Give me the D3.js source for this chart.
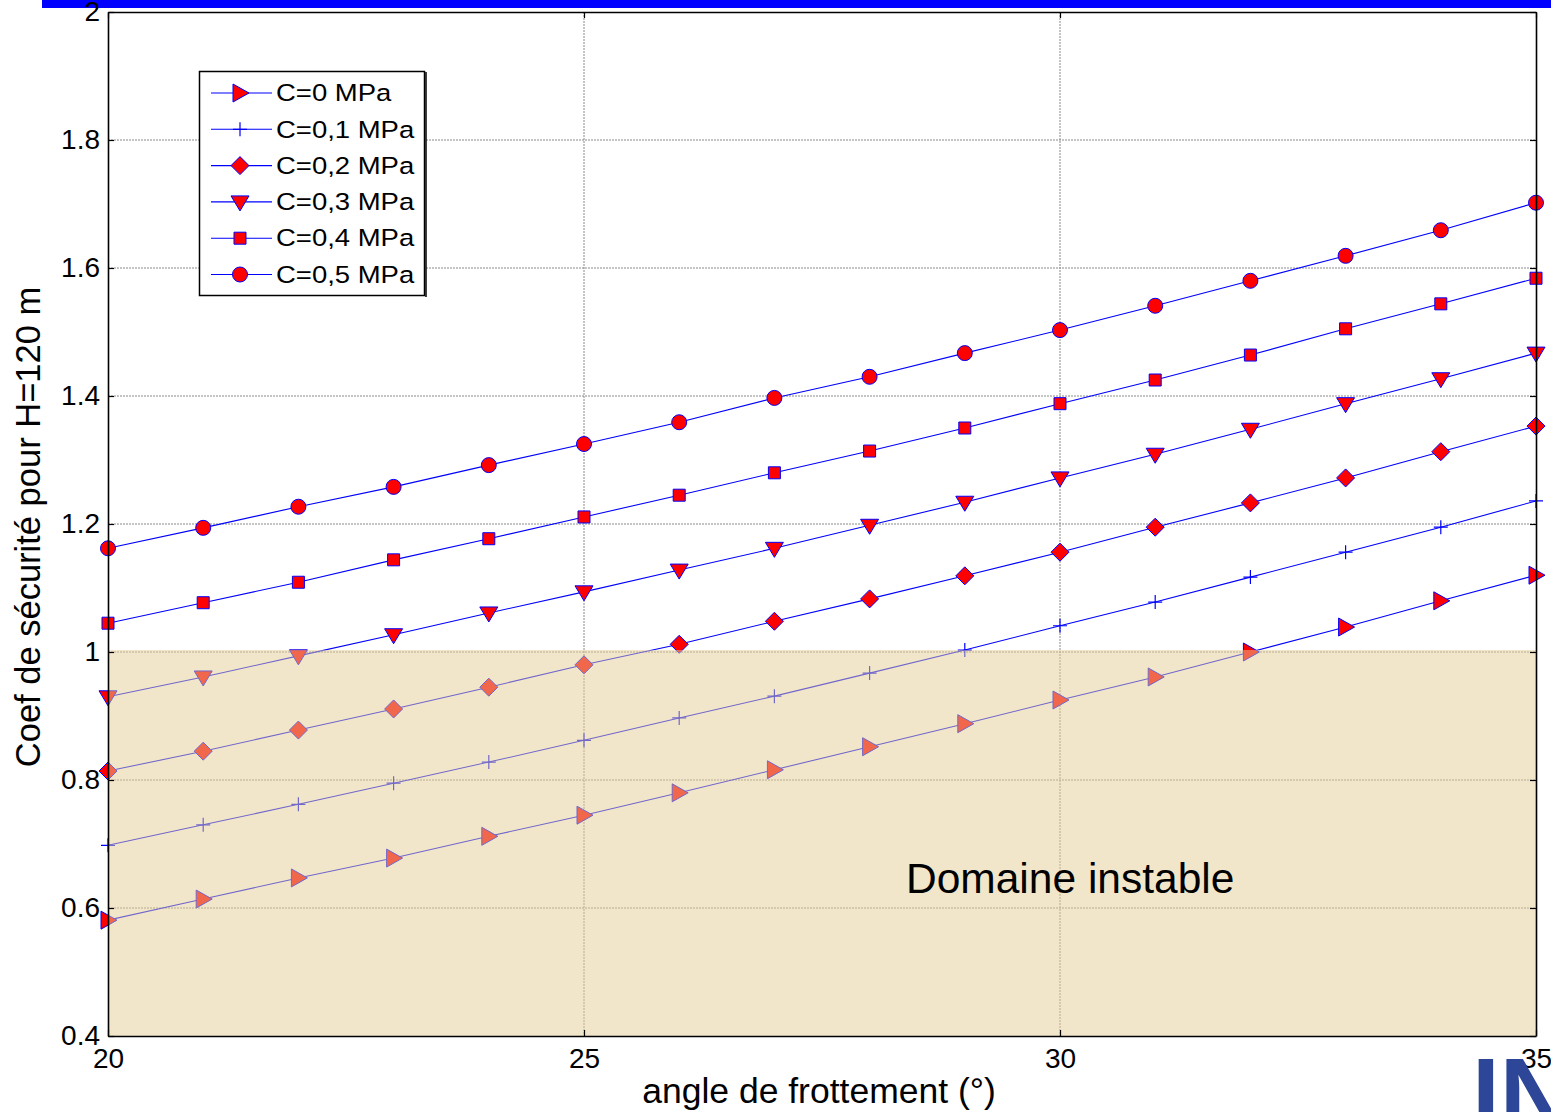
<!DOCTYPE html>
<html><head><meta charset="utf-8">
<script src="https://cdn.jsdelivr.net/npm/d3@7"></script>
<style>
html,body{margin:0;padding:0;background:#fff;overflow:hidden;}
svg{display:block;font-family:"Liberation Sans",Arial,sans-serif;}
</style></head>
<body><svg id="c" width="1551" height="1112"></svg>
<script>
const angles = [20,21,22,23,24,25,26,27,28,29,30,31,32,33,34,35];
const c0  = [0.581,0.614,0.647,0.678,0.712,0.745,0.780,0.816,0.852,0.888,0.925,0.961,1.000,1.039,1.080,1.120];
const c01 = [0.698,0.730,0.762,0.795,0.828,0.862,0.897,0.931,0.967,1.003,1.041,1.078,1.117,1.156,1.195,1.236];
const c02 = [0.814,0.845,0.878,0.911,0.945,0.980,1.012,1.048,1.083,1.119,1.156,1.195,1.233,1.272,1.313,1.353];
const c03 = [0.930,0.961,0.994,1.027,1.061,1.094,1.128,1.162,1.198,1.234,1.272,1.309,1.348,1.388,1.427,1.467];
const c04 = [1.045,1.077,1.109,1.144,1.177,1.211,1.245,1.280,1.314,1.350,1.388,1.425,1.464,1.505,1.544,1.584];
const c05 = [1.162,1.194,1.227,1.258,1.292,1.325,1.359,1.397,1.430,1.467,1.503,1.541,1.580,1.619,1.659,1.702];
const seriesNames = ["C=0 MPa","C=0,1 MPa","C=0,2 MPa","C=0,3 MPa","C=0,4 MPa","C=0,5 MPa"];
const seriesMarkers = ["triRight","plus","diamond","triDown","square","circle"];
const xTicks = [20,25,30,35];
const yTicks = [0.4,0.6,0.8,1,1.2,1.4,1.6,1.8,2];
const unstableLimit = 1.0;
const xLabel = "angle de frottement (°)";
const yLabel = "Coef de sécurité pour H=120 m";
const zoneLabel = "Domaine instable";

(function(){
const allSeries = [c0,c01,c02,c03,c04,c05];
const svg = d3.select("#c");
const L=108,R=1536,T=12,B=1036;
const x = d3.scaleLinear().domain([20,35]).range([L,R]);
const y = d3.scaleLinear().domain([0.4,2]).range([B,T]);

// top blue bar
svg.append("rect").attr("x",42).attr("y",0).attr("width",1509).attr("height",8).attr("fill","#0000ff");

// grid
const g = svg.append("g");
g.selectAll(".gx").data(xTicks.filter(v=>v>20&&v<35)).enter().append("line")
 .attr("x1",d=>x(d)).attr("x2",d=>x(d)).attr("y1",T).attr("y2",B)
 .attr("stroke","#8a8a8a").attr("stroke-width",1).attr("stroke-dasharray","2,1");
g.selectAll(".gy").data(yTicks.filter(v=>v>0.4&&v<2)).enter().append("line")
 .attr("x1",L).attr("x2",R).attr("y1",d=>y(d)).attr("y2",d=>y(d))
 .attr("stroke","#8a8a8a").attr("stroke-width",1).attr("stroke-dasharray","2,1");

function marker(sel,type){
  const red="#ff0000", blue="#0000ff";
  let p;
  switch(type){
    case "triRight": p = "M-7,-9 L9,0 L-7,9 Z"; break;
    case "triDown": p = "M-9,-6 L9,-6 L0,9 Z"; break;
    case "diamond": p = "M0,-9 L9,0 L0,9 L-9,0 Z"; break;
    case "square": p = "M-6,-6 L6,-6 L6,6 L-6,6 Z"; break;
    case "circle": sel.append("circle").attr("r",7.5).attr("fill",red).attr("stroke",blue).attr("stroke-width",1); return;
    case "plus": sel.append("path").attr("d","M-7,0 L7,0 M0,-7 L0,7").attr("fill","none").attr("stroke",blue).attr("stroke-width",1.2); return;
  }
  sel.append("path").attr("d",p).attr("fill",red).attr("stroke",blue).attr("stroke-width",1);
}
const line = d3.line().x((d,i)=>x(angles[i])).y(d=>y(d));
allSeries.forEach((s,k)=>{
  svg.append("path").datum(s).attr("d",line).attr("fill","none").attr("stroke","#0000ff").attr("stroke-width",1.1);
  svg.append("g").selectAll("g").data(s).enter().append("g")
    .attr("transform",(d,i)=>`translate(${x(angles[i])},${y(d)})`)
    .each(function(){ marker(d3.select(this),seriesMarkers[k]); });
});

// unstable zone overlay
svg.append("rect").attr("x",L).attr("y",y(unstableLimit)-2).attr("width",R-L).attr("height",B-y(unstableLimit)+2)
  .attr("fill","#e4cd96").attr("opacity",0.5);
svg.append("text").attr("x",906).attr("y",893).attr("font-size",42.5).attr("fill","#000").text(zoneLabel);

// axes
const ax = svg.append("g");
const axL = ax.append("g").attr("transform",`translate(${L},0)`)
  .call(d3.axisLeft(y).tickValues(yTicks).tickFormat(d3.format("~g")).tickSizeInner(-6).tickSizeOuter(0).tickPadding(8));
const axB = ax.append("g").attr("transform",`translate(0,${B})`)
  .call(d3.axisBottom(x).tickValues(xTicks).tickFormat(d3.format("d")).tickSizeInner(-6).tickSizeOuter(0).tickPadding(12));
const axR = ax.append("g").attr("transform",`translate(${R},0)`)
  .call(d3.axisRight(y).tickValues(yTicks).tickFormat("").tickSizeInner(-6).tickSizeOuter(0));
const axT = ax.append("g").attr("transform",`translate(0,${T})`)
  .call(d3.axisTop(x).tickValues(xTicks).tickFormat("").tickSizeInner(-6).tickSizeOuter(0));
[axL,axB,axR,axT].forEach(a=>{
  a.selectAll("path.domain").attr("stroke","#000").attr("stroke-width",1.6);
  a.selectAll(".tick line").attr("stroke","#000").attr("stroke-width",1.2);
  a.selectAll("text").attr("font-size",28).attr("fill","#000").attr("font-family","Liberation Sans, Arial, sans-serif");
});
axB.selectAll("text").attr("dy","0.71em");

// axis labels
svg.append("text").attr("x",819).attr("y",1103).attr("text-anchor","middle").attr("font-size",35.5).text(xLabel);
svg.append("text").attr("transform","translate(40,527) rotate(-90)").attr("text-anchor","middle").attr("font-size",34.5).text(yLabel);

// legend
const lg = svg.append("g");
lg.append("rect").attr("x",199.5).attr("y",71.5).attr("width",225).attr("height",224).attr("fill","#fff").attr("stroke","#000").attr("stroke-width",1.5);
lg.append("line").attr("x1",426).attr("x2",426).attr("y1",72).attr("y2",297).attr("stroke","#000").attr("stroke-width",1.5);
seriesNames.forEach((n,k)=>{
  const yy = 93 + k*36.3;
  lg.append("line").attr("x1",211).attr("x2",272).attr("y1",yy).attr("y2",yy).attr("stroke","#0000ff").attr("stroke-width",1.1);
  const m = lg.append("g").attr("transform",`translate(240,${yy})`);
  marker(m,seriesMarkers[k]);
  lg.append("text").attr("transform",`translate(276,${yy}) scale(1.17,1)`).attr("dy","0.35em").attr("font-size",23.5).text(n);
});

// logo fragment
svg.append("text").attr("x",1472).attr("y",1128).attr("font-size",100).attr("font-weight","bold").attr("fill","#2e4697").text("IN");
axB.raise();
})();
</script></body></html>
